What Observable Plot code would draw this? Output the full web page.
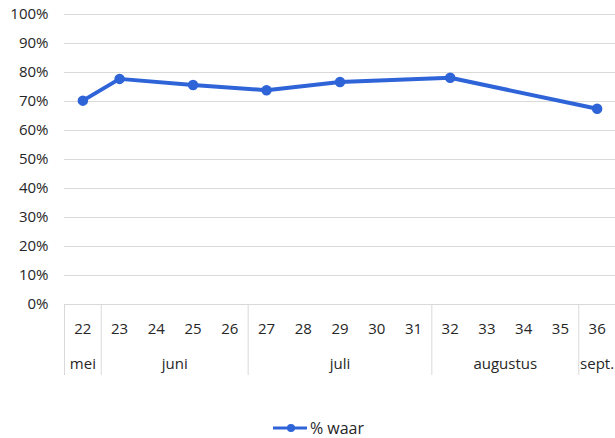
<!DOCTYPE html>
<html><head><meta charset="utf-8">
<script src="https://cdn.jsdelivr.net/npm/d3@7"></script>
<script src="https://cdn.jsdelivr.net/npm/@observablehq/plot@0.6"></script>
<style>
body{margin:0;background:#fff;font-family:"Open Sans",sans-serif;}
#legend{height:38px;display:flex;justify-content:center;align-items:flex-start;box-sizing:border-box;font-size:16px;color:#262626;}
#legend .item{display:flex;align-items:center;margin-top:17px;margin-left:22px;line-height:22px;}
</style>
</head><body>
<div id="chart"></div>
<div id="legend"></div>
<script>
const weeks = [22,23,24,25,26,27,28,29,30,31,32,33,34,35,36];
const months = ["mei","juni","juli","augustus","sept."];
const monthStart = [22,23,27,32,36];
const monthEnd = [22,26,31,35,36];
const dataWeeks = [22,23,25,27,29,32,36];
const pctWaar = [0.703,0.778,0.757,0.739,0.767,0.782,0.675];
const yTicks = [0,0.1,0.2,0.3,0.4,0.5,0.6,0.7,0.8,0.9,1];
const seriesName = "% waar";

const color = "#2e64d8";
const grid = "#d9d9d9";
const ink = "#262626";
const axisBottom = -0.245; // extent of category axis below 0

const series = dataWeeks.map((w,i)=>({week:w, pct:pctWaar[i]}));
const monthRows = months.map((m,i)=>({name:m, mid:(monthStart[i]+monthEnd[i])/2}));
const separators = [21.5, ...monthEnd.slice(0,-1).map(e=>e+0.5)];

const chart = Plot.plot({
  width: 615,
  height: 400,
  marginLeft: 64,
  marginRight: 0,
  marginTop: 14,
  marginBottom: 96,
  style: {fontSize: "15px", fontFamily: "'Open Sans', sans-serif", color: ink, background: "#fff"},
  x: {type: "linear", domain: [21.5, 36.5], axis: null},
  y: {domain: [0, 1]},
  marks: [
    Plot.gridY(yTicks, {stroke: grid, strokeOpacity: 1}),
    Plot.axisY({ticks: yTicks, tickFormat: d3.format(".0%"), tickSize: 0, tickPadding: 16, label: null, fontSize: 15, fill: ink}),
    Plot.ruleY([0], {stroke: grid}),
    Plot.ruleX(separators, {y1: 0, y2: axisBottom, stroke: grid}),
    Plot.text(weeks, {x: d => d, y: 0, dy: 25, text: d => String(d), fontSize: 15, fill: ink}),
    Plot.text(monthRows, {x: "mid", y: 0, dy: 60, text: "name", fontSize: 15, fill: ink}),
    Plot.line(series, {x: "week", y: "pct", stroke: color, strokeWidth: 4, strokeLinejoin: "round"}),
    Plot.dot(series, {x: "week", y: "pct", r: 4.5, fill: color, stroke: color})
  ]
});
document.getElementById("chart").appendChild(chart);

const lg = document.getElementById("legend");
lg.innerHTML = `<div class="item"><svg width="34" height="12" style="margin-right:3px"><line x1="0" y1="6" x2="34" y2="6" stroke="${color}" stroke-width="3"/><circle cx="18" cy="6" r="4" fill="${color}"/></svg><span>${seriesName}</span></div>`;
</script>
</body></html>
